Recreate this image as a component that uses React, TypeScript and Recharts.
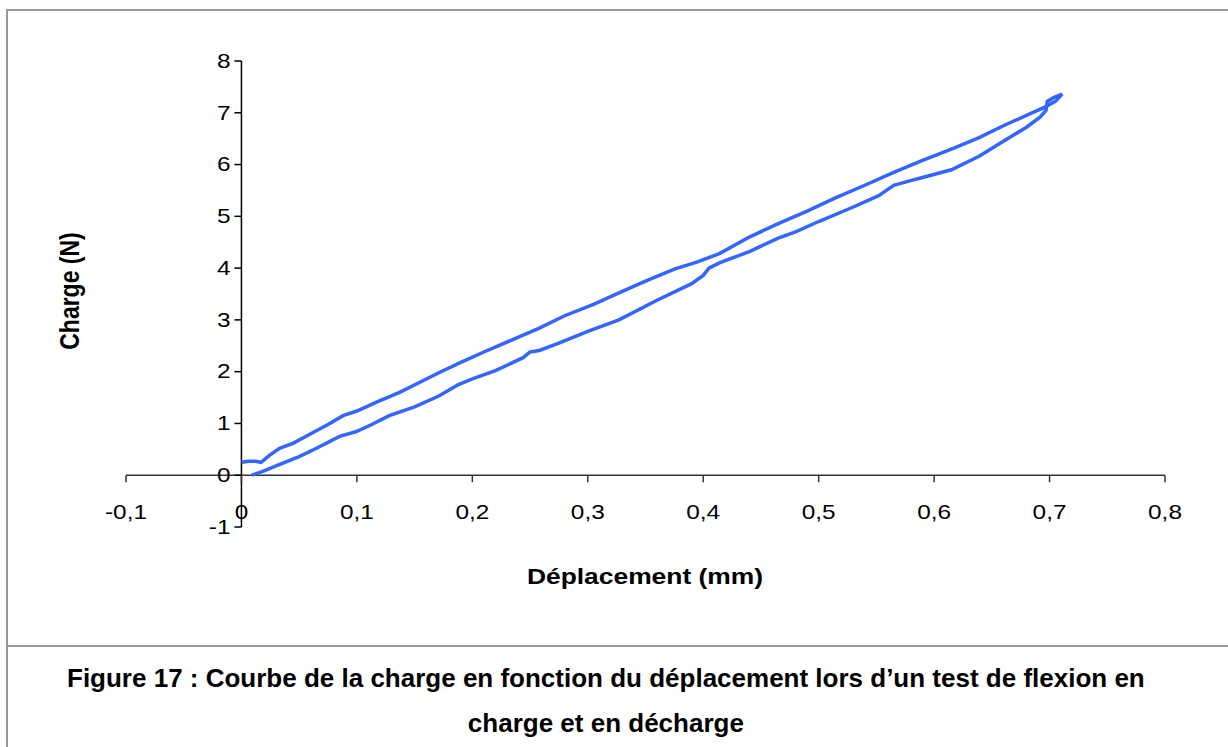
import { LineChart, Line, XAxis, YAxis, ReferenceLine } from "recharts";

// axis ticks
const xTicks = [-0.1, 0, 0.1, 0.2, 0.3, 0.4, 0.5, 0.6, 0.7, 0.8];
const yTicks = [-1, 0, 1, 2, 3, 4, 5, 6, 7, 8];

// charge (montée)
const loading = [
  { x: 0, y: 0.25 }, { x: 0.006, y: 0.27 }, { x: 0.012, y: 0.27 }, { x: 0.017, y: 0.25 },
  { x: 0.024, y: 0.38 }, { x: 0.033, y: 0.52 }, { x: 0.045, y: 0.62 }, { x: 0.06, y: 0.8 },
  { x: 0.075, y: 0.98 }, { x: 0.088, y: 1.15 }, { x: 0.1, y: 1.24 }, { x: 0.118, y: 1.42 },
  { x: 0.137, y: 1.6 }, { x: 0.155, y: 1.8 }, { x: 0.171, y: 1.98 }, { x: 0.19, y: 2.18 },
  { x: 0.21, y: 2.38 }, { x: 0.235, y: 2.62 }, { x: 0.258, y: 2.84 }, { x: 0.28, y: 3.08 },
  { x: 0.305, y: 3.3 }, { x: 0.327, y: 3.52 }, { x: 0.35, y: 3.75 }, { x: 0.375, y: 3.98 },
  { x: 0.395, y: 4.12 }, { x: 0.414, y: 4.28 }, { x: 0.44, y: 4.6 }, { x: 0.465, y: 4.86 },
  { x: 0.49, y: 5.1 }, { x: 0.515, y: 5.36 }, { x: 0.54, y: 5.6 }, { x: 0.565, y: 5.85 },
  { x: 0.59, y: 6.08 }, { x: 0.615, y: 6.3 }, { x: 0.639, y: 6.52 }, { x: 0.66, y: 6.75 },
  { x: 0.68, y: 6.95 }, { x: 0.695, y: 7.1 }, { x: 0.705, y: 7.22 }, { x: 0.711, y: 7.36 },
];

// décharge (retour)
const unloading = [
  { x: 0.711, y: 7.36 }, { x: 0.704, y: 7.3 }, { x: 0.698, y: 7.22 }, { x: 0.697, y: 7.05 },
  { x: 0.692, y: 6.92 }, { x: 0.68, y: 6.72 }, { x: 0.66, y: 6.45 }, { x: 0.639, y: 6.16 },
  { x: 0.615, y: 5.9 }, { x: 0.59, y: 5.75 }, { x: 0.578, y: 5.68 }, { x: 0.565, y: 5.6 },
  { x: 0.552, y: 5.4 }, { x: 0.53, y: 5.18 }, { x: 0.5, y: 4.9 }, { x: 0.48, y: 4.7 },
  { x: 0.465, y: 4.58 }, { x: 0.44, y: 4.32 }, { x: 0.414, y: 4.1 }, { x: 0.405, y: 4.0 },
  { x: 0.4, y: 3.86 }, { x: 0.39, y: 3.7 }, { x: 0.36, y: 3.38 }, { x: 0.327, y: 3.0 },
  { x: 0.3, y: 2.78 }, { x: 0.275, y: 2.55 }, { x: 0.258, y: 2.41 }, { x: 0.25, y: 2.38 },
  { x: 0.244, y: 2.27 }, { x: 0.22, y: 2.02 }, { x: 0.2, y: 1.86 }, { x: 0.188, y: 1.75 },
  { x: 0.171, y: 1.53 }, { x: 0.15, y: 1.32 }, { x: 0.128, y: 1.15 }, { x: 0.112, y: 0.97 },
  { x: 0.099, y: 0.84 }, { x: 0.085, y: 0.75 }, { x: 0.065, y: 0.52 }, { x: 0.05, y: 0.36 },
  { x: 0.03, y: 0.18 }, { x: 0.018, y: 0.07 }, { x: 0.009, y: 0 },
];

const W = 1228;
const H = 645;
const YAXIS_W = 60;
const XAXIS_H = 40;
// plot box: left 126, top 61, right 1165, bottom 527
const M = { top: 61, right: 63, bottom: 118 - XAXIS_H, left: 126 - YAXIS_W };
const PW = W - 126 - 63;
const PH = H - 61 - 118;
// pixel position of the crossing axes (x=0, y=0)
const X0 = 126 + PW * (0.1 / 0.9);
const Y0 = 61 + PH * (8 / 9);
const SX = 1.22; // the original picture is stretched horizontally
const FONT = '"Liberation Sans", Arial, sans-serif';
const BLUE = "#3366ff";
const tickText = { fontSize: 20, fontFamily: FONT, fill: "#000" };

const fmt = (v: number) => (v === 0 ? "0" : String(Math.round(v * 10) / 10).replace(".", ","));

const renderXTick = ({ x, payload }: any) => (
  <g key={`xt-${payload.value}`}>
    <line x1={x} x2={x} y1={Y0} y2={Y0 + 7} stroke="#333" strokeWidth={1.5} />
    <text
      transform={`translate(${x},${Y0 + 37}) scale(${SX},1)`}
      textAnchor="middle"
      dominantBaseline="central"
      style={tickText}
    >
      {fmt(payload.value)}
    </text>
  </g>
);

const renderYTick = ({ y, payload }: any) => (
  <g key={`yt-${payload.value}`}>
    <line x1={X0 - 7} x2={X0} y1={y} y2={y} stroke="#000" strokeWidth={1.5} />
    <text
      transform={`translate(${X0 - 11},${y}) scale(${SX},1)`}
      textAnchor="end"
      dominantBaseline="central"
      style={tickText}
    >
      {fmt(payload.value)}
    </text>
  </g>
);

export default function App() {
  return (
    <div style={{ position: "absolute", left: 0, top: 0, width: W, height: 747, overflow: "hidden", background: "#fff", fontFamily: FONT }}>
      <div style={{ position: "absolute", left: 6, top: 9, width: 1400, height: 900, borderLeft: "2px solid #999", borderTop: "2px solid #999" }} />
      <div style={{ position: "absolute", left: 6, top: 645, width: 1400, height: 2, background: "#999" }} />

      <div style={{ position: "absolute", left: 0, top: 0 }}>
        <LineChart width={W} height={H} margin={M}>
          <XAxis
            dataKey="x"
            type="number"
            domain={[-0.1, 0.8]}
            ticks={xTicks}
            interval={0}
            height={XAXIS_H}
            axisLine={false}
            tickLine={false}
            tick={renderXTick}
            allowDataOverflow
          />
          <YAxis
            type="number"
            domain={[-1, 8]}
            ticks={yTicks}
            interval={0}
            width={YAXIS_W}
            axisLine={false}
            tickLine={false}
            tick={renderYTick}
            allowDataOverflow
          />
          <ReferenceLine y={0} stroke="#333" strokeWidth={1.5} />
          <ReferenceLine x={0} stroke="#000" strokeWidth={1.5} />
          <Line data={loading} dataKey="y" type="linear" stroke={BLUE} strokeWidth={3.5} dot={false} isAnimationActive={false} />
          <Line data={unloading} dataKey="y" type="linear" stroke={BLUE} strokeWidth={3.5} dot={false} isAnimationActive={false} />
        </LineChart>
      </div>

      <div
        style={{
          position: "absolute", left: 70, top: 291, transform: "translate(-50%,-50%) rotate(-90deg) scale(1,1.22)",
          fontSize: 23, fontWeight: "bold", whiteSpace: "nowrap", lineHeight: 1,
        }}
      >
        Charge (N)
      </div>
      <div
        style={{
          position: "absolute", left: 645, top: 577, transform: "translate(-50%,-50%) scaleX(1.2)",
          fontSize: 22, fontWeight: "bold", whiteSpace: "nowrap", lineHeight: 1,
        }}
      >
        Déplacement (mm)
      </div>

      <div
        style={{
          position: "absolute", left: 67, top: 663, display: "inline-block", fontSize: 26, fontWeight: "bold",
          lineHeight: "30px", whiteSpace: "nowrap",
        }}
      >
        <div>Figure 17 : Courbe de la charge en fonction du déplacement lors d’un test de flexion en</div>
        <div style={{ textAlign: "center", marginTop: 15 }}>charge et en décharge</div>
      </div>
    </div>
  );
}
